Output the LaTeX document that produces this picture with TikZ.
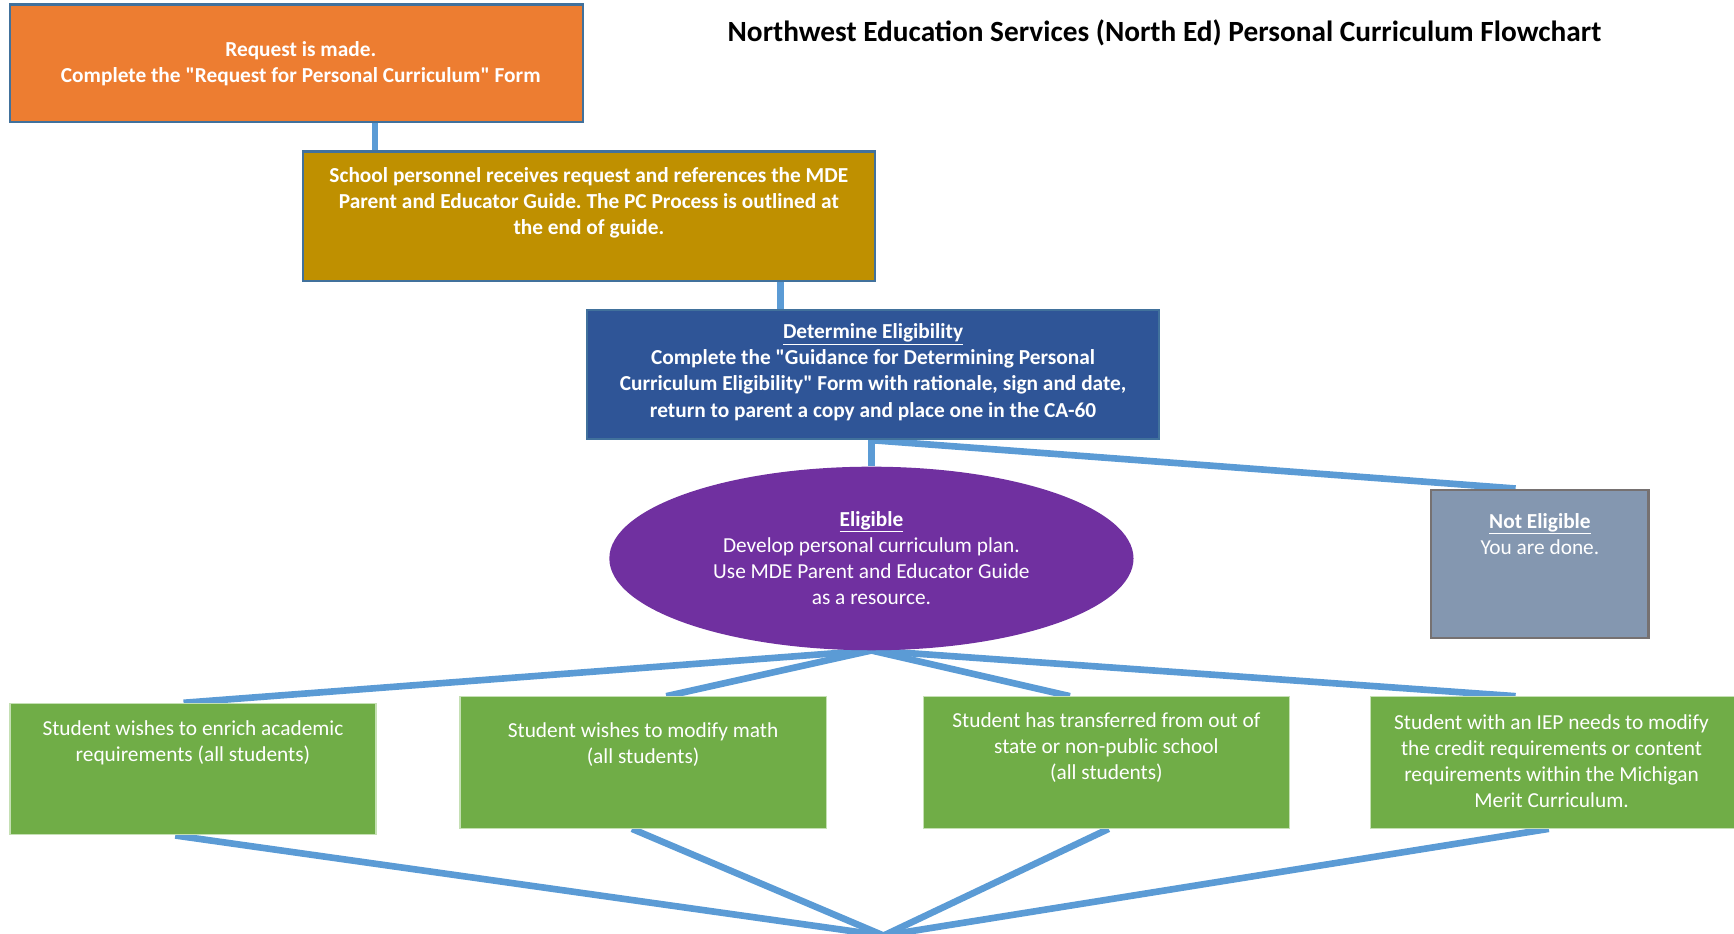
\documentclass[tikz,border=0pt]{standalone}
\usepackage{fontspec}
\setmainfont{Carlito}
\frenchspacing
\usetikzlibrary{positioning,shapes.geometric,backgrounds,calc}
\definecolor{reqorange}{HTML}{ED7D31}
\definecolor{schoolgold}{HTML}{BF9000}
\definecolor{detblue}{HTML}{2F5597}
\definecolor{eligpurple}{HTML}{7030A0}
\definecolor{nogrey}{HTML}{8497B0}
\definecolor{nogreyedge}{HTML}{767171}
\definecolor{casegreen}{HTML}{70AD47}
\definecolor{caseedge}{HTML}{C5E0B4}
\definecolor{edgeblue}{HTML}{41719C}
\definecolor{linkblue}{HTML}{5B9BD5}
\tikzset{
	box/.style={draw=edgeblue, line width=2pt, inner sep=0pt},
	casebox/.style={draw=caseedge, line width=1pt, fill=casegreen, inner sep=0pt, minimum width=331pt, minimum height=119pt},
	txt/.style={text=white, align=center, inner sep=0pt, font=\fontsize{19.3}{23.6}\selectfont},
	btxt/.style={txt, font=\bfseries\fontsize{19.3}{23.6}\selectfont},
	link/.style={draw=linkblue, line width=6pt},
}

\begin{document}
\begin{tikzpicture}[x=1pt,y=1pt]
		%%%%% START %%%%%
		\useasboundingbox (0,0) rectangle (1568,-844);
		
		\node[font=\bfseries\fontsize{26.5}{31}\selectfont] (title) at (1053,-30) {Northwest Education Services (North Ed) Personal Curriculum Flowchart};
		
		% process boxes
		\node[box, fill=reqorange, minimum width=518pt, minimum height=106pt] (req) at (268,-57) {};
		\node[btxt] (reqtxt) at (272,-57.5) {Request is made.\\Complete the \textquotedbl Request for Personal Curriculum\textquotedbl{} Form};
		
		\node[box, fill=schoolgold, minimum width=517pt, minimum height=117pt] (school) at (532.5,-195.5) {};
		\node[btxt] (schooltxt) at ([yshift=12]school.center) {School personnel receives request and references the MDE\\Parent and Educator Guide. The PC Process is outlined at\\the end of guide.};
		
		\node[box, fill=detblue, minimum width=517pt, minimum height=117pt] (det) at (789.5,-338.5) {};
		\node[btxt] (dettxt) at ([yshift=2]det.center) {\underline{Determine Eligibility}\\Complete the \textquotedbl Guidance for Determining Personal\\Curriculum Eligibility\textquotedbl{} Form with rationale, sign and date,\\return to parent a copy and place one in the CA-60};
		
		% outcome
		\node[ellipse, fill=eligpurple, inner sep=0pt, minimum width=474pt, minimum height=166pt] (elig) at (788,-505) {};
		\node[txt] (eligtxt) at (788,-504.5) {\textbf{\underline{Eligible}}\\Develop personal curriculum plan.\\Use MDE Parent and Educator Guide\\as a resource.};
		
		\node[draw=nogreyedge, line width=2.5pt, fill=nogrey, inner sep=0pt, minimum width=197pt, minimum height=134pt] (noelig) at (1392.5,-510) {};
		\node[txt] (noeligtxt) at ([yshift=27]noelig.center) {\textbf{\underline{Not Eligible}}\\You are done.};
		
		% student cases
		\node[casebox] (enrich) at (174.5,-695.5) {};
		\node[txt] (enrichtxt) at ([yshift=24]enrich.center) {Student wishes to enrich academic\\requirements (all students)};
		
		\node[casebox] (math) at (581.5,-689.5) {};
		\node[txt] (mathtxt) at ([yshift=16.5]math.center) {Student wishes to modify math\\(all students)};
		
		\node[casebox] (transfer) at (1000.5,-689.5) {};
		\node[txt] (transfertxt) at ([yshift=13.5]transfer.center) {Student has transferred from out of\\state or non-public school\\(all students)};
		
		\node[casebox] (iep) at (1404.5,-689.5) {};
		\node[txt] (ieptxt) at ([shift={(-1.5,1.5)}]iep.center) {Student with an IEP needs to modify\\the credit requirements or content\\requirements within the Michigan\\Merit Curriculum.};
		
		\coordinate (meet) at (799,-846);
		
		% connectors
		\begin{pgfonlayer}{background}
			\draw[link] ([xshift=71]req.south) -- ([xshift=71]req.south |- school.north);
			\draw[link] ([xshift=173.5]school.south) -- ([xshift=173.5]school.south |- det.north);
			\draw[link] (elig.north |- det.south) -- (elig.north);
			\draw[link] (elig.north |- det.south) -- ([xshift=-22]noelig.north);
			
			\draw[link] (elig.south) -- ([xshift=-8.5]enrich.north);
			\draw[link] (elig.south) -- ([xshift=21]math.north);
			\draw[link] (elig.south) -- ([xshift=-33]transfer.north);
			\draw[link] (elig.south) -- ([xshift=-34]iep.north);
			
			\draw[link] ([xshift=-16]enrich.south) -- (meet);
			\draw[link] ([xshift=-10]math.south) -- (meet);
			\draw[link] ([xshift=2]transfer.south) -- (meet);
			\draw[link] ([xshift=-4]iep.south) -- (meet);
		\end{pgfonlayer}
		%%%%% END %%%%%
\end{tikzpicture}
\end{document}
